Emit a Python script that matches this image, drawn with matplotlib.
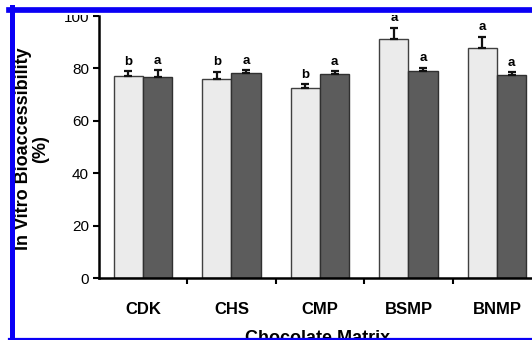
import matplotlib
matplotlib.use("Agg")
from matplotlib import pyplot as plt
from matplotlib.lines import Line2D
from matplotlib.patches import Rectangle
import numpy as np

plt.rcParams['font.family'] = ['Liberation Sans', 'DejaVu Sans']

matrices = ['CDK', 'CHS', 'CMP', 'BSMP', 'BNMP']
light_vals = [77.2, 76.0, 72.4, 91.2, 87.9]
light_err = [1.8, 2.7, 1.6, 4.3, 4.2]
light_letters = ['b', 'b', 'b', 'a', 'a']
dark_vals = [76.8, 78.4, 77.7, 79.1, 77.4]
dark_err = [2.6, 1.0, 1.3, 1.2, 1.2]
dark_letters = ['a', 'a', 'a', 'a', 'a']
yticks = [0, 20, 40, 60, 80, 100]

W, H = 532, 340
fig = plt.figure(figsize=(W / 100, H / 100), dpi=100)
ax = fig.add_axes([98.75 / W, 62 / H, 442.5 / W, 262 / H])

x = np.arange(len(matrices))
bw = 0.33
ax.bar(x - bw / 2, light_vals, bw, color='#ebebeb', edgecolor='#404040', linewidth=1, zorder=2)
ax.bar(x + bw / 2, dark_vals, bw, color='#5c5c5c', edgecolor='#303030', linewidth=1, zorder=2)

zeros = [0] * len(x)
ax.errorbar(x - bw / 2, light_vals, yerr=[zeros, light_err], fmt='none', ecolor='#111111',
            elinewidth=1.6, capsize=3, capthick=1.6, zorder=3)
ax.errorbar(x + bw / 2, dark_vals, yerr=[zeros, dark_err], fmt='none', ecolor='#111111',
            elinewidth=1.6, capsize=3, capthick=1.6, zorder=3)

for i in range(len(x)):
    ax.text(x[i] - bw / 2, light_vals[i] + light_err[i] + 1.3, light_letters[i],
            ha='center', va='bottom', fontsize=9.5, fontweight='bold', clip_on=False)
    ax.text(x[i] + bw / 2, dark_vals[i] + dark_err[i] + 1.3, dark_letters[i],
            ha='center', va='bottom', fontsize=9.5, fontweight='bold', clip_on=False)

ax.set_xlim(-0.5, 4.5)
ax.set_ylim(0, 100)
ax.set_yticks(yticks)
ax.tick_params(axis='y', direction='out', length=4, width=1.5, labelsize=11, pad=3)
ax.set_xticks(x)
ax.set_xticklabels(matrices, fontsize=12, fontweight='bold')
ax.tick_params(axis='x', which='major', length=0, pad=17)
ax.set_xticks(x[:-1] + 0.5, minor=True)
ax.tick_params(axis='x', which='minor', direction='out', length=4, width=1.5)

for s in ['top', 'right']:
    ax.spines[s].set_visible(False)
for s in ['left', 'bottom']:
    ax.spines[s].set_linewidth(1.8)

fig.text(32 / W, 1 - 149 / H, 'In Vitro Bioaccessibility\n(%)', rotation=90,
         ha='center', va='center', multialignment='center', fontsize=13,
         fontweight='bold', linespacing=0.95)
fig.text(318 / W, 1 - 330 / H, 'Chocolate Matrix', ha='center', va='top',
         fontsize=13, fontweight='bold')

# cropped frame of the original page
fig.add_artist(Rectangle((0, 1 - 15 / H), 1, 15 / H, transform=fig.transFigure,
                         facecolor='white', edgecolor='none', zorder=10))
blue = '#0a00f5'
fig.add_artist(Line2D([9 / W, 1], [1 - 9.8 / H] * 2, transform=fig.transFigure,
                      color=blue, linewidth=4.1, zorder=11))
fig.add_artist(Line2D([11.5 / W] * 2, [0, 1 - 7 / H], transform=fig.transFigure,
                      color=blue, linewidth=3.6, zorder=11))
fig.add_artist(Line2D([9 / W, 1], [1 / H] * 2, transform=fig.transFigure,
                      color=blue, linewidth=1.6, zorder=11))

fig.savefig('out.png', dpi=100)
